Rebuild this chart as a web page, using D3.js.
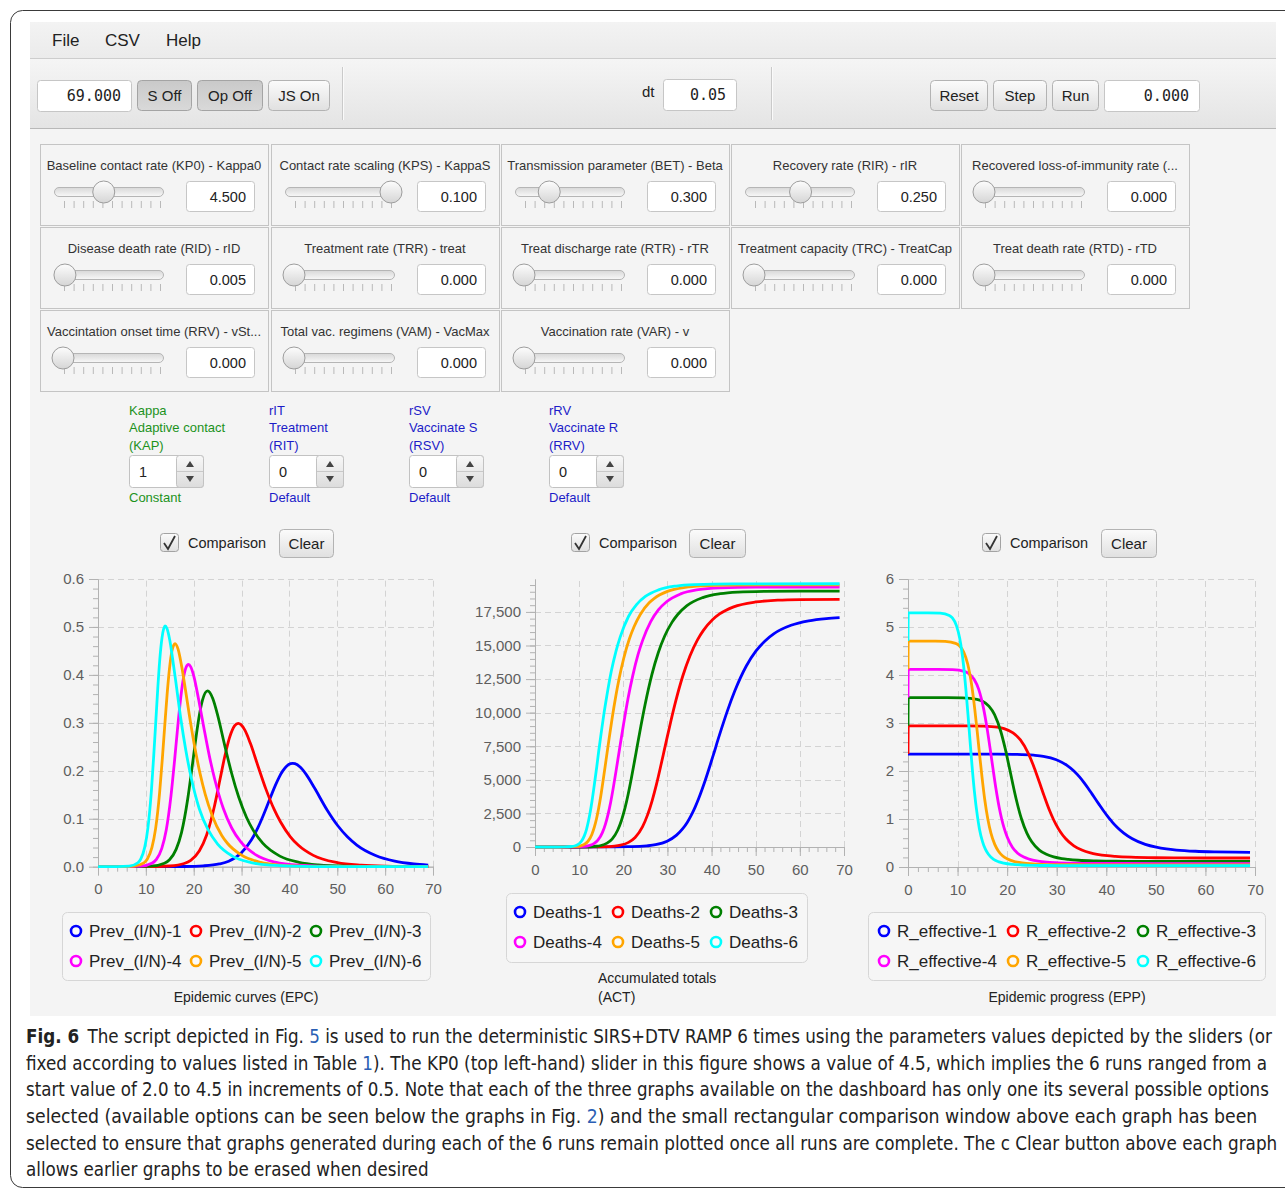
<!DOCTYPE html>
<html><head><meta charset="utf-8">
<script src="https://cdn.jsdelivr.net/npm/d3@7/dist/d3.min.js"></script>
<style>html,body{margin:0;padding:0;background:#fff}svg{display:block}</style>
</head><body>
<svg id="fig" width="1285" height="1188" xmlns="http://www.w3.org/2000/svg"></svg>
<script>
// ---------------- DATA ----------------
const xTicks = [0,10,20,30,40,50,60,70];
const epcTicks = [0,0.1,0.2,0.3,0.4,0.5,0.6];
const actTicks = [0,2500,5000,7500,10000,12500,15000,17500];
const eppTicks = [0,1,2,3,4,5,6];
const seriesColors = ["#0000ff","#ff0000","#008000","#ff00ff","#ffa500","#00ffff"];
const epcNames = ["Prev_(I/N)-1","Prev_(I/N)-2","Prev_(I/N)-3","Prev_(I/N)-4","Prev_(I/N)-5","Prev_(I/N)-6"];
const actNames = ["Deaths-1","Deaths-2","Deaths-3","Deaths-4","Deaths-5","Deaths-6"];
const eppNames = ["R_effective-1","R_effective-2","R_effective-3","R_effective-4","R_effective-5","R_effective-6"];

// run 1 (blue)
const t1 = [0,0.05,10,18,22,25.34,27.31,29.92,32.07,33.47,34.55,35.47,36.30,37.08,37.84,38.61,39.40,40.24,40.70,41.16,42.23,43.53,45.25,47.87,50.07,52.11,54.15,58,62,66,69];
const prev1 = [0,0,0.00003,0.00046,0.0018,0.0057,0.0115,0.0286,0.0562,0.0824,0.1072,0.1302,0.1513,0.1702,0.1865,0.1998,0.2095,0.2148,0.2155,0.2148,0.2079,0.1921,0.164,0.1183,0.0859,0.0624,0.0446,0.0234,0.0117,0.0058,0.0034];
const deaths1 = [0,0,0,15,26,85,169,429,883,1361,1868,2409,2987,3607,4277,5006,5804,6686,7165,7671,8790,10080,11607,13475,14594,15342,15884,16503,16836,17005,17072];
const reff1 = [2.353,2.353,2.353,2.351,2.346,2.329,2.306,2.235,2.118,2.0,1.882,1.765,1.647,1.529,1.412,1.294,1.176,1.059,1.0,0.941,0.824,0.706,0.588,0.471,0.412,0.376,0.353,0.328,0.315,0.308,0.306];
// run 2 (red)
const t2 = [0,0.05,8,12,15,18.01,19.38,21.19,22.68,24.34,25.50,26.51,27.50,28.56,29.30,29.87,30.72,31.82,33.46,35.07,36.81,38.15,40.20,41.82,45,50,55,60,69];
const prev2 = [0,0,0.00005,0.00034,0.0015,0.0067,0.0134,0.0333,0.0655,0.1266,0.1823,0.2308,0.2696,0.2942,0.2991,0.2964,0.2842,0.2578,0.209,0.1623,0.1194,0.0931,0.0624,0.0452,0.0236,0.0085,0.0031,0.0011,0.0002];
const deaths2 = [0,0,0,3,16,67,136,343,705,1495,2390,3422,4643,6139,7226,8065,9287,10780,12708,14202,15423,16128,16918,17350,17878,18242,18370,18418,18439];
const reff2 = [2.353,2.941,2.941,2.940,2.934,2.912,2.882,2.794,2.647,2.353,2.059,1.765,1.471,1.176,1.0,0.882,0.735,0.588,0.441,0.353,0.294,0.265,0.235,0.221,0.204,0.193,0.190,0.188,0.188];
// run 3 (green)
const t3 = [0,0.05,6,8,11,13.88,14.94,16.32,17.46,18.72,19.60,20.35,21.07,21.83,22.90,23.98,24.93,26.49,27.92,29.38,31.02,32.33,34.42,38,42,46,52,60,69];
const prev3 = [0,0,0.00005,0.00016,0.0011,0.0073,0.0146,0.0362,0.0716,0.1395,0.2029,0.2604,0.3097,0.3472,0.3666,0.3509,0.3188,0.2526,0.1949,0.1458,0.1032,0.0779,0.049,0.0221,0.0091,0.0037,0.001,0.0002,0];
const deaths3 = [0,0,0,0,8,55,112,286,587,1245,1992,2851,3869,5114,7039,8983,10589,12852,14458,15703,16721,17308,17966,18563,18853,18971,19028,19046,19052];
const reff3 = [2.941,3.529,3.529,3.529,3.524,3.494,3.459,3.353,3.176,2.823,2.47,2.118,1.765,1.412,1.0,0.706,0.529,0.353,0.265,0.212,0.176,0.159,0.141,0.127,0.120,0.118,0.117,0.116,0.116];
// run 4 (magenta)
const t4 = [0,0.05,4,6,9,11.35,12.20,13.33,14.25,15.26,15.96,16.56,17.13,17.72,18.41,18.90,19.35,20.03,21.05,22.12,23.35,24.40,26.21,27.94,29.80,33,37,42,50,69];
const prev4 = [0,0,0.00002,0.00011,0.0012,0.0078,0.0154,0.0383,0.0759,0.1487,0.2177,0.2814,0.3383,0.3851,0.4158,0.4217,0.4173,0.3971,0.3476,0.2899,0.227,0.1819,0.1208,0.0807,0.0521,0.0246,0.0095,0.003,0.0004,0];
const deaths4 = [0,0,0,0,8,47,97,246,504,1068,1706,2445,3316,4383,5760,6771,7701,9076,11016,12722,14332,15399,16777,17649,18260,18841,19156,19294,19347,19355];
const reff4 = [3.529,4.118,4.118,4.118,4.111,4.077,4.036,3.912,3.706,3.294,2.883,2.471,2.059,1.647,1.235,1.0,0.824,0.618,0.412,0.288,0.206,0.165,0.124,0.103,0.091,0.080,0.075,0.073,0.072,0.072];
// run 5 (orange)
const t5 = [0,0.05,4,5.5,7.5,9.59,10.31,11.26,12.03,12.88,13.46,13.96,14.43,14.92,15.47,16.10,16.73,17.50,18.25,19.06,20.09,21.33,22.41,23.85,25.86,27.04,30,34,38,44,55,69];
const prev5 = [0,0,0.00004,0.00016,0.0011,0.008,0.0159,0.0397,0.0788,0.1549,0.2276,0.2959,0.358,0.4114,0.4509,0.4653,0.4536,0.4169,0.3704,0.3181,0.2564,0.194,0.1509,0.1069,0.0652,0.0489,0.024,0.009,0.0035,0.0008,0,0];
const deaths5 = [0,0,0,0,6,41,85,215,441,934,1493,2137,2902,3836,5039,6483,7941,9639,11132,12541,14034,15443,16377,17310,18179,18514,19026,19330,19444,19497,19514,19514];
const reff5 = [4.118,4.706,4.706,4.706,4.699,4.659,4.612,4.471,4.235,3.765,3.294,2.824,2.353,1.882,1.412,1.0,0.706,0.471,0.329,0.235,0.165,0.118,0.094,0.075,0.061,0.056,0.050,0.047,0.045,0.0446,0.0445,0.0445];
// run 6 (cyan)
const t6 = [0,0.05,4,6.5,8.33,8.95,9.77,10.43,11.17,11.67,12.10,12.50,12.91,13.38,14.0,14.41,15.03,15.61,16.22,17.27,18.34,19.31,21.18,23,25,28,32,36,45,69];
const prev6 = [0,0,0.00007,0.0011,0.0082,0.0164,0.0408,0.0811,0.16,0.2358,0.3066,0.3734,0.4321,0.4777,0.502,0.4969,0.4706,0.4321,0.3886,0.3107,0.2434,0.1933,0.1204,0.0771,0.0473,0.0227,0.0085,0.0032,0.0003,0];
const deaths6 = [0,0,0,4,37,75,191,392,827,1320,1911,2581,3408,4492,5989,7072,8570,9909,11150,13061,14568,15642,17159,18043,18648,19142,19428,19533,19592,19598];
const reff6 = [4.706,5.294,5.294,5.287,5.241,5.188,5.029,4.765,4.235,3.706,3.176,2.647,2.118,1.588,1.059,0.794,0.529,0.371,0.265,0.159,0.106,0.079,0.053,0.042,0.035,0.031,0.029,0.028,0.0275,0.0275];

// dashboard texts / values
const menuItems = ["File","CSV","Help"];
const sliderTitles = ["Baseline contact rate (KP0) - Kappa0","Contact rate scaling (KPS) - KappaS","Transmission parameter (BET) - Beta","Recovery rate (RIR) - rIR","Recovered loss-of-immunity rate (...",
  "Disease death rate (RID) - rID","Treatment rate (TRR) - treat","Treat discharge rate (RTR) - rTR","Treatment capacity (TRC) - TreatCap","Treat death rate (RTD) - rTD",
  "Vaccintation onset time (RRV) - vSt...","Total vac. regimens (VAM) - VacMax","Vaccination rate (VAR) - v"];
const sliderValues = ["4.500","0.100","0.300","0.250","0.000","0.005","0.000","0.000","0.000","0.000","0.000","0.000","0.000"];
const sliderFractions = [0.42,1.0,0.26,0.48,0,0.02,0,0,0,0,0,0,0];
const spinLine1 = ["Kappa","rIT","rSV","rRV"];
const spinLine2 = ["Adaptive contact","Treatment","Vaccinate S","Vaccinate R"];
const spinLine3 = ["(KAP)","(RIT)","(RSV)","(RRV)"];
const spinValues = ["1","0","0","0"];
const spinLine4 = ["Constant","Default","Default","Default"];
const captionLines = [
  [["Fig. 6","b"],["The script depicted in Fig. ",""],["5","l"],[" is used to run the deterministic SIRS+DTV RAMP 6 times using the parameters values depicted by the sliders (or",""]],
  [["fixed according to values listed in Table ",""],["1","l"],["). The KP0 (top left-hand) slider in this figure shows a value of 4.5, which implies the 6 runs ranged from a",""]],
  [["start value of 2.0 to 4.5 in increments of 0.5. Note that each of the three graphs available on the dashboard has only one its several possible options",""]],
  [["selected (available options can be seen below the graphs in Fig. ",""],["2","l"],[") and the small rectangular comparison window above each graph has been",""]],
  [["selected to ensure that graphs generated during each of the 6 runs remain plotted once all runs are complete. The c Clear button above each graph",""]],
  [["allows earlier graphs to be erased when desired",""]]
];

// ---------------- DRAWING ----------------
const UI = '"Liberation Sans", Arial, Helvetica, sans-serif';
const MONO = '"DejaVu Sans Mono", "Liberation Mono", monospace';
const svg = d3.select("#fig");
const defs = svg.append("defs");
function grad(id,c1,c2){
  const g=defs.append("linearGradient").attr("id",id).attr("x1","0").attr("y1","0").attr("x2","0").attr("y2","1");
  g.append("stop").attr("offset","0").attr("stop-color",c1);
  g.append("stop").attr("offset","1").attr("stop-color",c2);
}
grad("gMenu","#f3f3f3","#ebebeb");
grad("gTool","#f5f5f5","#e4e4e4");
grad("gBtn","#fbfbfb","#e0e0e0");
grad("gBtnP","#c9c9c9","#d9d9d9");
grad("gTrack","#d8d8d8","#f8f8f8");
grad("gKnob","#fdfdfd","#d5d5d5");
grad("gSpin","#f8f8f8","#dcdcdc");

function T(p,x,y,s,o={}){
  const t=p.append("text").attr("x",x).attr("y",y).text(s)
    .attr("font-family",o.ff||UI).attr("font-size",o.fs||14).attr("fill",o.fill||"#222");
  if(o.anchor) t.attr("text-anchor",o.anchor);
  if(o.fw) t.attr("font-weight",o.fw);
  return t;
}
function R(p,x,y,w,h,o={}){
  return p.append("rect").attr("x",x).attr("y",y).attr("width",w).attr("height",h)
    .attr("rx",o.rx||0).attr("fill",o.fill||"none").attr("stroke",o.stroke||"none").attr("stroke-width",o.sw||1);
}
function L(p,x1,y1,x2,y2,c,w){
  return p.append("line").attr("x1",x1).attr("y1",y1).attr("x2",x2).attr("y2",y2).attr("stroke",c).attr("stroke-width",w||1);
}
function button(x,y,w,h,label,pressed){
  R(svg,x+0.5,y+0.5,w,h,{rx:4,fill:pressed?"url(#gBtnP)":"url(#gBtn)",stroke:pressed?"#a4a4a4":"#b3b3b3"});
  T(svg,x+w/2+0.5,y+h/2+5.5,label,{fs:15,anchor:"middle",fill:"#222"});
}
function field(x,y,w,h,val,o={}){
  R(svg,x+0.5,y+0.5,w,h,{rx:3,fill:"#fff",stroke:"#c6c6c6"});
  T(svg,o.tx!=null?o.tx:x+w-10,y+h/2+(o.dy||5.5),val,{fs:o.fs||15,ff:o.ff||UI,anchor:o.anchor||"end",fill:"#222"});
}

// page + frame
R(svg,0,0,1285,1188,{fill:"#fff"});
R(svg,30,22,1246,994,{fill:"#f4f4f4"});
R(svg,30,22,1246,36,{fill:"url(#gMenu)"});
L(svg,30,58.5,1276,58.5,"#cdcdcd");
R(svg,30,59,1246,69,{fill:"url(#gTool)"});
L(svg,30,128.5,1276,128.5,"#b8b8b8");
svg.append("path").attr("d","M1295,10.5 L22.5,10.5 A12,12 0 0 0 10.5,22.5 L10.5,1175.5 A12,12 0 0 0 22.5,1187.5 L1295,1187.5")
  .attr("fill","none").attr("stroke","#3a3a3a").attr("stroke-width",1);

// menu
[52,105,166].forEach((x,i)=>T(svg,x,46,menuItems[i],{fs:17,fill:"#222"}));

// toolbar
field(37,80,94,31,"69.000",{ff:MONO,tx:121,fs:15});
button(137,80,54,30,"S Off",true);
button(197,80,65,30,"Op Off",true);
button(268,80,61,30,"JS On",false);
L(svg,342.5,67,342.5,120,"#cacaca"); L(svg,343.5,67,343.5,120,"#fafafa");
T(svg,642,97,"dt",{fs:15});
field(663,79,73,31,"0.05",{ff:MONO,tx:726,fs:15});
L(svg,771.5,67,771.5,120,"#cacaca"); L(svg,772.5,67,772.5,120,"#fafafa");
button(930,80,57,30,"Reset",false);
button(993,80,53,30,"Step",false);
button(1052,80,46,30,"Run",false);
field(1104,80,95,31,"0.000",{ff:MONO,tx:1189,fs:15});

// slider cells
const cellX=[40,271,501,731,961], cellY=[144,227,310];
sliderTitles.forEach((title,i)=>{
  const cx=cellX[i%5], cy=cellY[Math.floor(i/5)];
  R(svg,cx+0.5,cy+0.5,228,81,{stroke:"#c4c4c4",fill:"#f4f4f4"});
  T(svg,cx+114,cy+25.5,title,{fs:13,anchor:"middle",fill:"#333"});
  R(svg,cx+14.5,cy+43.5,109,9,{rx:4.5,fill:"url(#gTrack)",stroke:"#b5b5b5"});
  for(let k=0;k<=10;k++){
    const tx=cx+24+k*9.6;
    L(svg,tx+0.5,cy+57,tx+0.5,cy+64,"#b9b9b9");
  }
  const kx=cx+23+sliderFractions[i]*97;
  svg.append("circle").attr("cx",kx).attr("cy",cy+48).attr("r",11)
    .attr("fill","url(#gKnob)").attr("stroke","#9d9d9d").attr("stroke-width",1);
  field(cx+146,cy+37,68,30,sliderValues[i],{tx:cx+206,fs:14.5});
});

// spinners
const spinX=[129,269,409,549];
spinX.forEach((x,i)=>{
  const col = i===0 ? "#1c921c" : "#1c1cc8";
  T(svg,x,415,spinLine1[i],{fs:13,fill:col});
  T(svg,x,432,spinLine2[i],{fs:13,fill:col});
  T(svg,x,450,spinLine3[i],{fs:13,fill:col});
  R(svg,x+0.5,455.5,74,32,{rx:3,fill:"#fff",stroke:"#c2c2c2"});
  R(svg,x+47.5,455.5,27,32,{rx:3,fill:"url(#gSpin)",stroke:"#c2c2c2"});
  L(svg,x+48,471.5,x+74,471.5,"#c8c8c8");
  svg.append("path").attr("d",`M${x+57},${467} L${x+61},${461} L${x+65},${467} Z`).attr("fill","#444");
  svg.append("path").attr("d",`M${x+57},${476} L${x+61},${482} L${x+65},${476} Z`).attr("fill","#444");
  T(svg,x+10,477,spinValues[i],{fs:14.5,fill:"#222"});
  T(svg,x,502,spinLine4[i],{fs:13,fill:col});
});

// comparison rows
[[160,279,54],[571,689,56],[982,1101,55]].forEach(([cbx,bx,bw])=>{
  R(svg,cbx+0.5,533.5,18,18,{rx:3,fill:"url(#gBtn)",stroke:"#a3a3a3"});
  svg.append("path").attr("d",`M${cbx+4},${543} L${cbx+8},${549} L${cbx+15},${536}`)
    .attr("fill","none").attr("stroke","#333").attr("stroke-width",1.8);
  T(svg,cbx+28,548,"Comparison",{fs:14.5,fill:"#222"});
  button(bx,529,bw,28,"Clear",false);
});

// charts
const fmt1=d3.format(".1f"), fmtC=d3.format(",");
let clipN=0;
function chart(cfg){
  const g=svg.append("g");
  const x=d3.scaleLinear().domain([0,70]).range(cfg.xr);
  const y=d3.scaleLinear().domain(cfg.yd).range(cfg.yr);
  const gridC="#d3d3d3";
  g.selectAll(null).data(xTicks.filter(v=>v>0)).join("line")
    .attr("x1",d=>Math.round(x(d))+0.5).attr("x2",d=>Math.round(x(d))+0.5)
    .attr("y1",y(cfg.yd[0])).attr("y2",y(cfg.yd[1]))
    .attr("stroke",gridC).attr("stroke-dasharray","6,4");
  g.selectAll(null).data(cfg.yt.filter(v=>v>0)).join("line")
    .attr("x1",cfg.xr[0]).attr("x2",cfg.xr[1])
    .attr("y1",d=>Math.round(y(d))+0.5).attr("y2",d=>Math.round(y(d))+0.5)
    .attr("stroke",gridC).attr("stroke-dasharray","6,4");
  const axC="#b2b2b2";
  const styleAxis=(a)=>{a.selectAll("line").attr("stroke",axC);a.select(".domain").attr("stroke",axC);
    a.selectAll("text").attr("font-family",UI).attr("font-size",15).attr("fill","#5e5e5e");};
  const xb=y(cfg.yd[0]);
  const xm=g.append("g").attr("transform",`translate(0,${xb})`)
    .call(d3.axisBottom(x).tickValues(d3.range(0,70.001,2)).tickSize(5).tickFormat("").tickSizeOuter(0));
  styleAxis(xm);
  const xM=g.append("g").attr("transform",`translate(0,${xb})`)
    .call(d3.axisBottom(x).tickValues(xTicks).tickSize(9).tickPadding(8).tickSizeOuter(0));
  styleAxis(xM);
  const ym=g.append("g").attr("transform",`translate(${cfg.xr[0]},0)`)
    .call(d3.axisLeft(y).tickValues(cfg.minor).tickSize(5).tickFormat("").tickSizeOuter(0));
  styleAxis(ym);
  const yM=g.append("g").attr("transform",`translate(${cfg.xr[0]},0)`)
    .call(d3.axisLeft(y).tickValues(cfg.yt).tickSize(9).tickPadding(5).tickFormat(cfg.fmt).tickSizeOuter(0));
  styleAxis(yM);
  const cid="clip"+(clipN++);
  defs.append("clipPath").attr("id",cid).append("rect")
    .attr("x",cfg.xr[0]).attr("y",cfg.yr[1]-6).attr("width",cfg.xr[1]-cfg.xr[0]+6).attr("height",cfg.yr[0]-cfg.yr[1]+12);
  const lg=g.append("g").attr("clip-path",`url(#${cid})`);
  const line=d3.line().x(d=>x(d[0])).y(d=>y(d[1])).curve(d3.curveMonotoneX);
  cfg.series.forEach((s,i)=>{
    lg.append("path").datum(d3.zip(s[0],s[1])).attr("d",line)
      .attr("fill","none").attr("stroke",seriesColors[i]).attr("stroke-width",2.8)
      .attr("stroke-linejoin","round").attr("stroke-linecap","butt");
  });
}
chart({xr:[98,433],yr:[866.7,579],yd:[0,0.6],yt:epcTicks,minor:d3.range(0,0.6001,0.02),fmt:fmt1,
  series:[[t1,prev1],[t2,prev2],[t3,prev3],[t4,prev4],[t5,prev5],[t6,prev6]]});
chart({xr:[535,844],yr:[847,579],yd:[0,19950],yt:actTicks,minor:d3.range(0,19950,500),fmt:fmtC,
  series:[[t1,deaths1],[t2,deaths2],[t3,deaths3],[t4,deaths4],[t5,deaths5],[t6,deaths6]]});
chart({xr:[908,1255],yr:[867,579],yd:[0,6],yt:eppTicks,minor:d3.range(0,6.001,0.2),fmt:d3.format("d"),
  series:[[t1,reff1],[t2,reff2],[t3,reff3],[t4,reff4],[t5,reff5],[t6,reff6]]});

// legends
function legend(bx,by,bw,bh,cols,rows,names){
  R(svg,bx+0.5,by+0.5,bw,bh,{rx:5,fill:"#f6f6f6",stroke:"#d6d6d6"});
  names.forEach((n,i)=>{
    const cx=cols[i%3], cy=rows[Math.floor(i/3)];
    svg.append("circle").attr("cx",cx).attr("cy",cy).attr("r",5)
      .attr("fill","#fafafa").attr("stroke",seriesColors[i]).attr("stroke-width",2.6);
    T(svg,cx+13,cy+6,n,{fs:17,fill:"#222"});
  });
}
legend(62,912,368,68,[76,196,316],[931,961],epcNames);
legend(506,893,301,69,[520,618,716],[912,942],actNames);
legend(868,912,397,68,[884,1013,1143],[931,961],eppNames);

// chart titles
T(svg,246,1002,"Epidemic curves (EPC)",{fs:14,anchor:"middle",fill:"#222"});
T(svg,598,983,"Accumulated totals",{fs:14,fill:"#222"});
T(svg,598,1002,"(ACT)",{fs:14,fill:"#222"});
T(svg,1067,1002,"Epidemic progress (EPP)",{fs:14,anchor:"middle",fill:"#222"});

// caption (each line fitted to the width it has in the figure)
const capBase=[1043,1070,1096,1123,1150,1176];
const capEnd=[1272,1268,1270,1258,1278,429];
captionLines.forEach((segs,li)=>{
  const t=svg.append("text").attr("x",0).attr("y",0)
    .attr("font-family",'"Liberation Sans Narrow","DejaVu Sans Condensed","Liberation Sans",sans-serif')
    .attr("font-size",20).attr("fill","#222");
  segs.forEach(([s,k],si)=>{
    const sp=t.append("tspan").text(s);
    if(k==="b") sp.attr("font-weight","bold");
    if(k==="l") sp.attr("fill","#2b5fb4");
    if(li===0 && si===1) sp.attr("dx",9);
  });
  const w=t.node().getComputedTextLength()+(li===0?9:0);
  const sc=(capEnd[li]-26)/w;
  t.attr("transform",`translate(26,${capBase[li]}) scale(${sc},1)`);
});
</script>
</body></html>
